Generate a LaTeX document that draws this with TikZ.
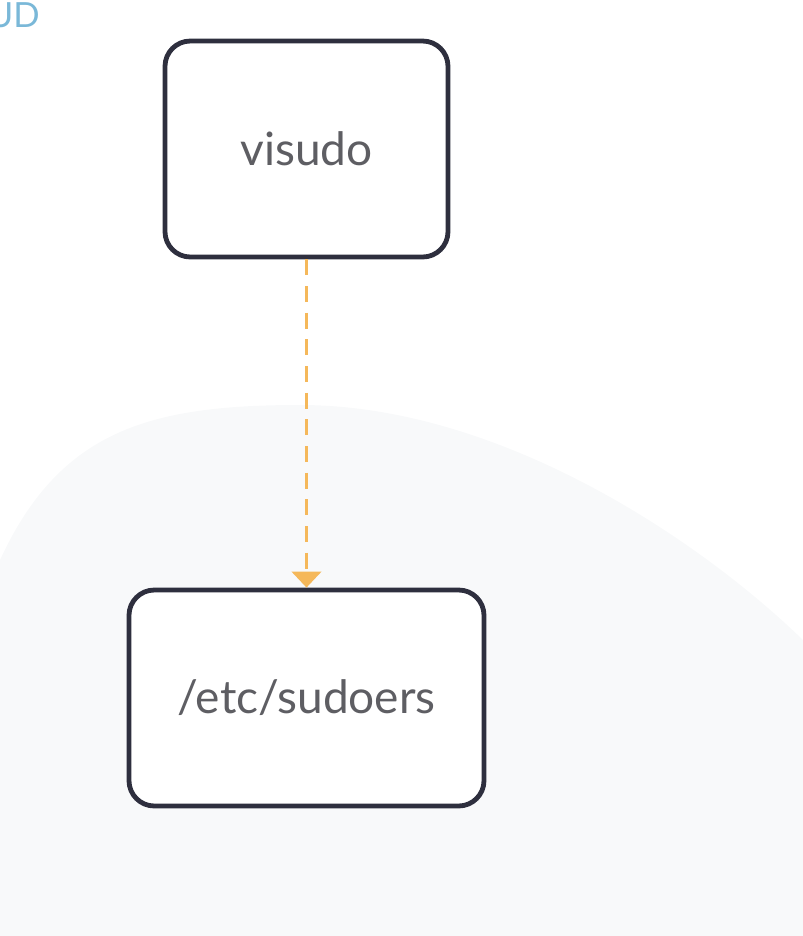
\documentclass[tikz,border=0pt]{standalone}
\usepackage{fontspec}
\setmainfont{Lato}
\usetikzlibrary{arrows.meta}
\definecolor{boxline}{HTML}{2E2F3E}
\definecolor{txtgray}{HTML}{5E5E63}
\definecolor{arrorange}{HTML}{F5B85A}
\definecolor{blob}{HTML}{F8F9FA}
\definecolor{udblue}{HTML}{7AB8D8}
\tikzset{
  box/.style={draw=boxline, line width=3.6pt, rounded corners=19pt, fill=white,
    text=txtgray, font=\fontsize{34.5}{40}\selectfont, inner sep=0pt},
  link/.style={draw=arrorange, line width=2.4pt, dash pattern=on 12pt off 8pt,
    -{Triangle[width=22pt,length=12pt]}}
}
\begin{document}
\begin{tikzpicture}[x=0.75pt,y=-0.75pt]
\useasboundingbox (0,0) rectangle (803,936);
\begin{scope}
\clip (0,0) rectangle (803,936);
\fill[blob] (0,560) .. controls (60,430) and (150,405) .. (300,405)
  .. controls (500,405) and (700,540) .. (803,640) -- (803,936) -- (0,936) -- cycle;
\node[text=udblue, font=\fontsize{26}{30}\selectfont, anchor=east, inner sep=0pt] (ud) at (40,15) {UD};
\end{scope}
\node[box, minimum width=283*0.75pt, minimum height=216*0.75pt] (visudo) at (306.5,149) {visudo};
\node[box, minimum width=355*0.75pt, minimum height=216*0.75pt] (sudoers) at (306.5,698) {/etc/sudoers};
\draw[link] (visudo.south) -- (sudoers.north);
\end{tikzpicture}
\end{document}
